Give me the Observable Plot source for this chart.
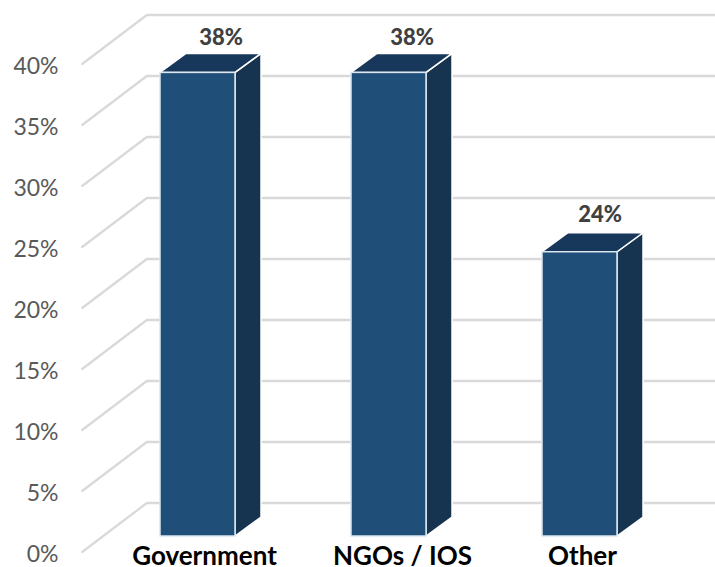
<!DOCTYPE html>
<html>
<head>
<meta charset="utf-8">
<script src="https://cdn.jsdelivr.net/npm/d3@7"></script>
<script src="https://cdn.jsdelivr.net/npm/@observablehq/plot@0.6"></script>
<style>html,body{margin:0;padding:0;background:#fff}svg{display:block}</style>
</head>
<body>
<div id="chart"></div>
<script>
const categories = ["Government", "NGOs / IOS", "Other"];
const barValues = [38, 38, 23.3];
const valueLabels = ["38%", "38%", "24%"];
const yTicks = [0, 5, 10, 15, 20, 25, 30, 35, 40];

const rows = categories.map((category, i) => ({category, value: barValues[i], label: valueLabels[i]}));
const FONT = "Lato, Carlito, 'Open Sans', sans-serif";
const depth = {dx: 26, dy: -19};
const wall = {backDy: -33.5, frontDy: 16.5};
const labelShift = [{dx: 23, dy: -35}, {dx: 23, dy: -35}, {dx: 20, dy: -37}];
const catShift = [6.5, 13.5, 2.5];

const poly = (pts) => pts.map(p => p.join(",")).join(" ");

function wallDiagonals(index, {y, x}) {
  const g = d3.create("svg:g").attr("stroke", "#D9D9D9").attr("stroke-width", 2.2).attr("fill", "none");
  const left = x(categories[0]);
  for (const t of yTicks) {
    g.append("line")
      .attr("x1", left - 78.5).attr("y1", y(t) + wall.frontDy)
      .attr("x2", left - 12.5).attr("y2", y(t) + wall.backDy);
  }
  return g.node();
}

function barFaces(index, {x, y}) {
  const g = d3.create("svg:g");
  const w = x.bandwidth();
  for (const r of rows) {
    const x0 = x(r.category), x1 = x0 + w, y0 = y(0), y1 = y(r.value);
    g.append("polygon")
      .attr("points", poly([[x1, y1], [x1 + depth.dx, y1 + depth.dy], [x1 + depth.dx, y0 + depth.dy], [x1, y0]]))
      .attr("fill", "#16334F").attr("stroke", "#fff").attr("stroke-width", 1.5);
    g.append("polygon")
      .attr("points", poly([[x0, y1], [x0 + depth.dx, y1 + depth.dy], [x1 + depth.dx, y1 + depth.dy], [x1, y1]]))
      .attr("fill", "#17375B").attr("stroke", "#fff").attr("stroke-width", 1.5);
  }
  return g.node();
}

const chart = Plot.plot({
  width: 715,
  height: 567,
  marginLeft: 60,
  marginRight: 0,
  marginTop: 0,
  marginBottom: 0,
  style: {fontFamily: FONT, background: "#fff", overflow: "visible"},
  x: {domain: categories, range: [159.5, 617], paddingInner: 0.607, paddingOuter: 0, axis: null},
  y: {domain: [0, 40], range: [536, 48], axis: null},
  marks: [
    Plot.ruleY(yTicks, {y: d => d, dy: wall.backDy, stroke: "#D9D9D9", strokeWidth: 2.5, insetLeft: 87}),
    wallDiagonals,
    Plot.axisY({
      ticks: yTicks, tickSize: 0, tickPadding: 2, dy: 18, anchor: "left", label: null,
      tickFormat: d => d + "%", fontSize: 23, color: "#595959"
    }),
    barFaces,
    Plot.barY(rows, {x: "category", y: "value", fill: "#1F4E79", stroke: "#DCE6EF", strokeWidth: 1.5}),
    ...rows.map((r, i) => Plot.text([r], {
      x: "category", y: "value", text: "label", dx: labelShift[i].dx, dy: labelShift[i].dy,
      fontSize: 22, fontWeight: 900, fill: "#404040"
    })),
    ...rows.map((r, i) => Plot.text([r], {
      x: "category", y: () => 0, text: "category", dx: catShift[i], dy: 20,
      fontSize: 26, fontWeight: 700, fill: "#000"
    }))
  ]
});
document.getElementById("chart").append(chart);
</script>
</body>
</html>
